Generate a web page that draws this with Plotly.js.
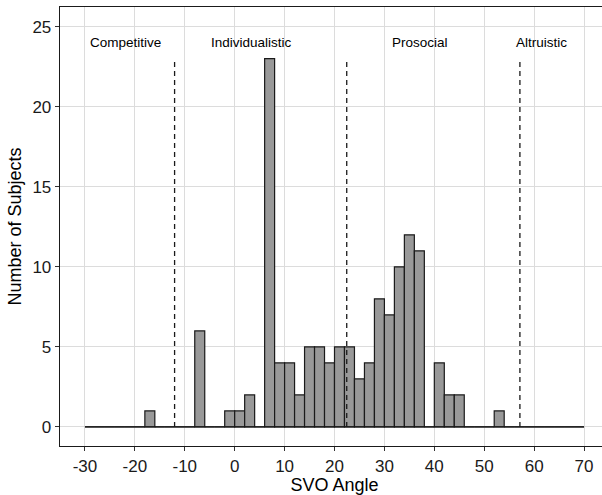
<!DOCTYPE html>
<html><head><meta charset="utf-8">
<script src="https://cdn.plot.ly/plotly-3.0.1.min.js"></script>
<style>html,body{margin:0;padding:0;overflow:hidden;background:#fff}#chart{width:610px;height:495px}</style>
</head><body><div id="chart"></div>
<script>
// bin start values (bin width 2)
const binStarts = [-30,-28,-26,-24,-22,-20,-18,-16,-14,-12,-10,-8,-6,-4,-2,0,2,4,6,8,10,12,14,16,18,20,22,24,26,28,30,32,34,36,38,40,42,44,46,48,50,52,54,56,58,60,62,64,66,68];
const counts    = [0,0,0,0,0,0,1,0,0,0,0,6,0,0,1,1,2,0,23,4,4,2,5,5,4,5,5,3,4,8,7,10,12,11,0,4,2,2,0,0,0,1,0,0,0,0,0,0,0,0];
const binWidth = 2;
const baseX = [-30, 70];
const baseY = [0, 0];
const boundaries = [-12.04, 22.45, 57.15];
const boundaryTop = 23;
const typeLabels = ["Competitive", "Individualistic", "Prosocial", "Altruistic"];
const typeLabelX = [-21.8, 3.4, 37.1, 61.5];
const typeLabelY = 24;
const xTicks = [-30,-20,-10,0,10,20,30,40,50,60,70];
const yTicks = [0,5,10,15,20,25];

const centers = binStarts.map(s => s + binWidth/2);
const traces = [];
traces.push({type:'scatter', mode:'lines', x:baseX, y:baseY, line:{color:'#1a1a1a', width:1.2}, hoverinfo:'skip', showlegend:false});
traces.push({type:'bar', x:centers, y:counts, width:binWidth,
  marker:{color:'#999999', line:{color:'#1a1a1a', width:1.2}}, showlegend:false});
boundaries.forEach(b => traces.push({type:'scatter', mode:'lines', x:[b,b], y:[0,boundaryTop],
  line:{color:'#1a1a1a', width:1.3, dash:'5px,4px'}, showlegend:false, hoverinfo:'skip'}));

const ff = 'Liberation Sans, Arial, sans-serif';
const annotations = typeLabels.map((t,i) => ({x:typeLabelX[i], y:typeLabelY, text:t, showarrow:false,
  xanchor:'center', yanchor:'middle', font:{family:ff, size:13.5, color:'#000'}}));

const axisFont = {family:ff, size:17, color:'#1a1a1a'};
const layout = {
  width:610, height:495,
  margin:{l:60, r:1, t:7, b:49},
  paper_bgcolor:'#fff', plot_bgcolor:'#fff',
  bargap:0,
  xaxis:{range:[-35,75], tickvals:xTicks, ticktext:xTicks.map(String), showgrid:true, gridcolor:'#dcdcdc', gridwidth:1,
    zeroline:false, showline:true, linecolor:'#1a1a1a', linewidth:1.3, mirror:true,
    ticks:'outside', ticklen:4, tickcolor:'#333', tickfont:axisFont,
    title:{text:'SVO Angle', font:{family:ff, size:18, color:'#000'}, standoff:3}},
  yaxis:{range:[-1.19,26.23], tickvals:yTicks, ticktext:yTicks.map(String), showgrid:true, gridcolor:'#dcdcdc', gridwidth:1,
    zeroline:false, showline:true, linecolor:'#1a1a1a', linewidth:1.3, mirror:true,
    ticks:'outside', ticklen:4, tickcolor:'#333', tickfont:axisFont,
    title:{text:'Number of Subjects', font:{family:ff, size:18, color:'#000'}, standoff:6}},
  annotations:annotations,
  showlegend:false
};
Plotly.newPlot('chart', traces, layout, {staticPlot:true, displayModeBar:false});
</script></body></html>
